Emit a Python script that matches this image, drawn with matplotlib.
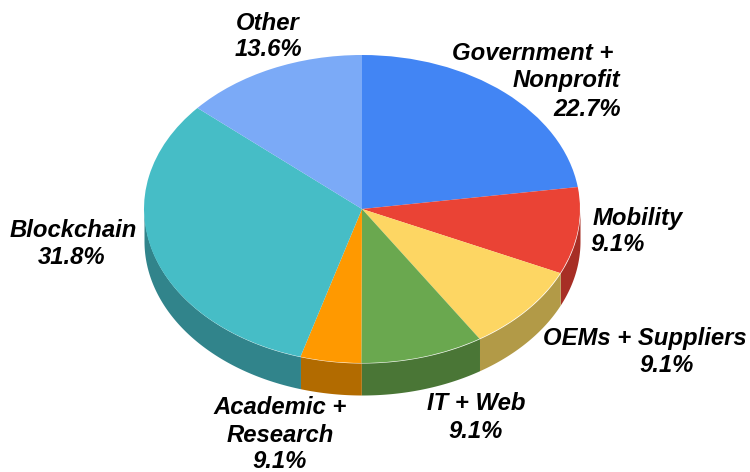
import numpy as np
import matplotlib
matplotlib.use("Agg")
import matplotlib.pyplot as plt

# Data. The Academic slice is drawn about half as wide as its 9.1% label says.
categories = ["Government + Nonprofit", "Mobility", "OEMs + Suppliers", "IT + Web",
              "Academic + Research", "Blockchain", "Other"]
drawn_values = [22.7, 9.1, 9.1, 9.1, 4.5, 31.8, 13.6]
label_percent = ["22.7%", "9.1%", "9.1%", "9.1%", "9.1%", "31.8%", "13.6%"]
label_lines = [["Government +", "Nonprofit"], ["Mobility"], ["OEMs + Suppliers"], ["IT + Web"],
               ["Academic +", "Research"], ["Blockchain"], ["Other"]]

# Styles and layout (image pixels)
top_colors = ["#4285f4", "#ea4335", "#fdd663", "#6aa84f", "#ff9900", "#46bdc6", "#7baaf7"]
wall_colors = ["#2e5daa", "#a72e25", "#b29a47", "#4a7636", "#b26b00", "#31848b", "#5677ac"]
W, H = 750, 472
CX, CY, RX, RY, DEPTH = 362, 209, 218, 154, 32
label_xy = [[(533, 53), (566, 81), (587, 110)],
            [(638, 218), (618, 245)],
            [(645, 339), (667, 366)],
            [(476, 403), (476, 431)],
            [(280, 407), (280, 435), (280, 461)],
            [(73, 230), (72, 257)],
            [(268, 23), (268, 50)]]

fig = plt.figure(figsize=(W / 100, H / 100), dpi=100)
ax = fig.add_axes([0, 0, 1, 1])

# top face: a unit pie stretched to an ellipse by the axes limits
ax.pie(drawn_values, colors=top_colors, startangle=90, counterclock=False, radius=1,
       normalize=True, wedgeprops=dict(linewidth=0, zorder=3))
ax.set_aspect("auto")
ax.set_xlim(-CX / RX, (W - CX) / RX)
ax.set_ylim(-(H - CY) / RY, CY / RY)
ax.axis("off")

# side wall: the visible lower half of each slice, extruded downward
fractions = np.array(drawn_values) / np.sum(drawn_values)
ends = 90 - 360 * np.cumsum(fractions)
starts = np.concatenate([[90], ends[:-1]])
depth = DEPTH / RY
for a0, a1, col in zip(starts, ends, wall_colors):
    lo, hi = max(a1, -180), min(a0, 0)
    if hi <= lo:
        continue
    t = np.radians(np.linspace(lo, hi, 120))
    ax.fill_between(np.cos(t), np.sin(t), np.sin(t) - depth, color=col, linewidth=0, zorder=2)

for lines, pct, xy in zip(label_lines, label_percent, label_xy):
    for s, (px, py) in zip(lines + [pct], xy):
        ax.text(px / W, 1 - py / H, s, transform=ax.transAxes, ha="center", va="center",
                family="Liberation Sans", fontsize=17.2, fontweight="bold", fontstyle="italic",
                color="black", zorder=5)

fig.savefig("out.png", dpi=100, facecolor="white")
